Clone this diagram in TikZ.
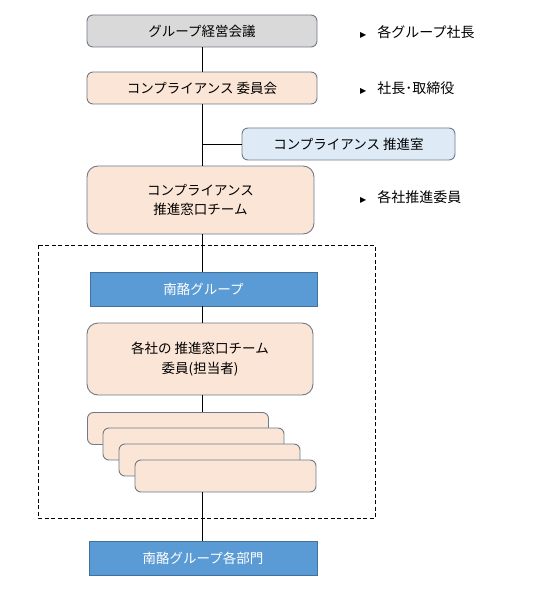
\documentclass[tikz,border=0pt]{standalone}
\usepackage{fontspec}
\setmainfont{Noto Sans CJK JP}
\newfontfamily\symfont{DejaVu Sans}
\newcommand{\tri}{{\symfont\fontsize{8}{8}\selectfont ▶}\hspace{11pt}}
\definecolor{grayfill}{HTML}{D9D9D9}
\definecolor{peach}{HTML}{FBE5D6}
\definecolor{paleblue}{HTML}{DEEBF7}
\definecolor{midblue}{HTML}{5B9BD5}
\definecolor{darkblue}{HTML}{41719C}
\definecolor{edgegray}{HTML}{6F7A88}
\begin{document}
\begin{tikzpicture}[x=1pt,y=-1pt,
    font=\fontsize{13.5}{19.5}\selectfont,
    roundbox/.style={draw=edgegray,line width=0.9pt,rounded corners=6pt,align=center,inner sep=0pt},
    bluebox/.style={draw=darkblue,line width=0.9pt,fill=midblue,text=white,inner sep=0pt},
    tallbox/.style={roundbox,rounded corners=11pt},
    sidelabel/.style={anchor=west,inner sep=0pt,font=\fontsize{14}{18}\selectfont}]
                \useasboundingbox (0,0) rectangle (545,604);

                % upper part
                \node[roundbox,fill=grayfill,minimum width=230pt,minimum height=32pt] (kaigi) at (202,31) {グループ経営会議};
                \node[roundbox,fill=peach,minimum width=230pt,minimum height=32pt] (iinkai) at (202,88) {コンプライアンス 委員会};
                \node[roundbox,fill=paleblue,minimum width=213pt,minimum height=32pt] (suishin) at (348.5,144) {コンプライアンス 推進室};
                \node[tallbox,fill=peach,minimum width=227pt,minimum height=68pt] (madoguchi) at (200.5,200) {コンプライアンス\\推進窓口チーム};

                \node[sidelabel] (lab1) at (360,32) {\tri 各グループ社長};
                \node[sidelabel] (lab2) at (360,88) {\tri 社長･取締役};
                \node[sidelabel] (lab3) at (360,197) {\tri 各社推進委員};

                % group frame
                \draw[dash pattern=on 4pt off 2.5pt,line width=0.9pt] (38,245) rectangle (375,518);
                \node[bluebox,minimum width=227pt,minimum height=34pt] (nanraku) at (203.5,289) {南酪グループ};
                \node[tallbox,fill=peach,minimum width=226pt,minimum height=72pt] (iin) at (200,359) {各社の 推進窓口チーム\\委員(担当者)};

                \node[roundbox,fill=peach,minimum width=181pt,minimum height=32pt] (sha1) at (178,428.5) {};
                \node[roundbox,fill=peach,minimum width=181pt,minimum height=32pt] (sha2) at (193.5,444) {};
                \node[roundbox,fill=peach,minimum width=181pt,minimum height=32pt] (sha3) at (209.5,460) {};
                \node[roundbox,fill=peach,minimum width=181pt,minimum height=32pt] (sha4) at (225.5,476) {};

                \node[bluebox,minimum width=228pt,minimum height=34pt] (bumon) at (203,558) {南酪グループ各部門};

                % spine
                \coordinate (branch) at (kaigi.south |- suishin.west);
                \draw[line width=0.8pt] (kaigi.south) -- (kaigi.south |- iinkai.north);
                \draw[line width=0.8pt] (kaigi.south |- iinkai.south) -- (kaigi.south |- madoguchi.north);
                \draw[line width=0.8pt] (branch) -- (suishin.west);
                \draw[line width=0.8pt] (kaigi.south |- madoguchi.south) -- (kaigi.south |- nanraku.north);
                \draw[line width=0.8pt] (kaigi.south |- nanraku.south) -- (kaigi.south |- iin.north);
                \draw[line width=0.8pt] (kaigi.south |- iin.south) -- (kaigi.south |- sha1.north);
                \draw[line width=0.8pt] (kaigi.south |- sha4.south) -- (kaigi.south |- bumon.north);

\end{tikzpicture}
\end{document}
